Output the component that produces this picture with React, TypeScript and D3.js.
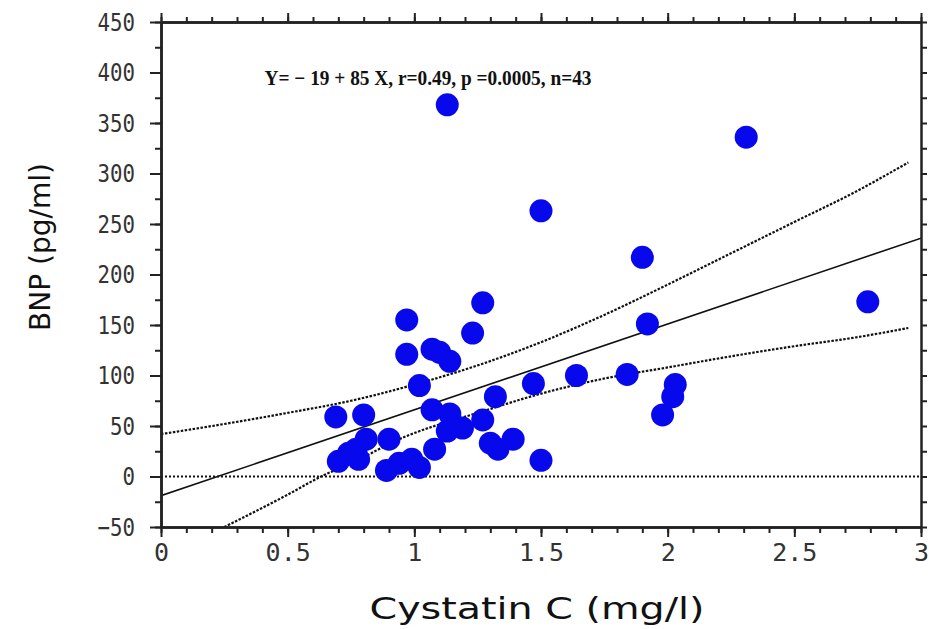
import { useEffect, useRef } from "react";
import * as d3 from "d3";

// Cystatin C (mg/l) and BNP (pg/ml) for each patient
const cystatin = [
  1.13, 2.31, 1.5, 1.9, 2.79, 1.27, 1.92, 0.97, 1.23, 0.97, 1.07, 1.1, 1.14, 1.02, 1.32,
  1.47, 1.64, 1.84, 2.03, 2.02, 1.98, 0.69, 0.8, 1.07, 1.14, 1.27, 1.19, 1.13, 0.81, 0.9,
  0.77, 0.7, 0.78, 0.89, 0.94, 0.99, 1.02, 1.08, 1.3, 1.33, 1.39, 1.5, 0.74,
];
const bnp = [
  368, 336, 263, 217, 173, 172, 151, 155, 142, 121, 126, 123, 114, 90, 79,
  92, 100, 101, 91, 79, 61, 59, 61, 66, 62, 56, 48, 45, 37, 37,
  27, 15, 17, 6, 13, 17, 9, 27, 33, 27, 37, 16, 23,
];

// 95% confidence band
const upperX = [0, 0.25, 0.5, 0.75, 1.0, 1.25, 1.5, 1.75, 2.0, 2.25, 2.5, 2.75, 2.95];
const upperY = [42, 52, 63, 75, 91, 110, 133, 160, 190, 221, 252, 283, 311];
const lowerX = [0.25, 0.5, 0.64, 0.75, 0.95, 1.0, 1.25, 1.5, 1.75, 2.0, 2.25, 2.5, 2.75, 2.95];
const lowerY = [-50, -18, 1, 13, 38, 43, 63, 82, 97, 108, 119, 129, 138, 147];

// regression line Y = a + b X
const INTERCEPT = -19;
const SLOPE = 85;

const xTicks = [0, 0.5, 1, 1.5, 2, 2.5, 3];
const yTicks = [-50, 0, 50, 100, 150, 200, 250, 300, 350, 400, 450];

const TITLE = "Y= \u2212 19 + 85 X, r=0.49, p =0.0005, n=43";
const X_LABEL = "Cystatin C (mg/l)";
const Y_LABEL = "BNP (pg/ml)";

const width = 929;
const height = 629;
const MARGIN = { top: 22, right: 8, bottom: 102, left: 161 };

const TICK_FONT = "'DejaVu Sans Mono', 'Liberation Mono', monospace";
const LABEL_FONT = "'DejaVu Sans', 'Liberation Sans', sans-serif";

export default function App() {
  const svgRef = useRef<SVGSVGElement>(null);

  const x = d3.scaleLinear().domain([0, 3]).range([MARGIN.left, width - MARGIN.right]);
  const y = d3.scaleLinear().domain([-50, 450]).range([height - MARGIN.bottom, MARGIN.top]);

  useEffect(() => {
    const svg = d3.select(svgRef.current);
    svg.selectAll("*").remove();

    svg.append("rect").attr("width", width).attr("height", height).attr("fill", "#fff");

    svg
      .append("clipPath")
      .attr("id", "plot-clip")
      .append("rect")
      .attr("x", x(0))
      .attr("y", y(450))
      .attr("width", x(3) - x(0))
      .attr("height", y(-50) - y(450));

    const plot = svg.append("g").attr("clip-path", "url(#plot-clip)");

    // zero reference line
    plot
      .append("line")
      .attr("x1", x(0))
      .attr("x2", x(3))
      .attr("y1", y(0))
      .attr("y2", y(0))
      .attr("stroke", "#111")
      .attr("stroke-width", 1.8)
      .attr("stroke-dasharray", "2,2");

    // confidence band
    const band = d3
      .line<[number, number]>()
      .x((d) => x(d[0]))
      .y((d) => y(d[1]))
      .curve(d3.curveMonotoneX);

    [
      upperX.map((v, i) => [v, upperY[i]] as [number, number]),
      lowerX.map((v, i) => [v, lowerY[i]] as [number, number]),
    ].forEach((pts) => {
      plot
        .append("path")
        .attr("d", band(pts))
        .attr("fill", "none")
        .attr("stroke", "#111")
        .attr("stroke-width", 2.2)
        .attr("stroke-dasharray", "2.5,1.5");
    });

    // regression line
    plot
      .append("line")
      .attr("x1", x(0))
      .attr("x2", x(3))
      .attr("y1", y(INTERCEPT))
      .attr("y2", y(INTERCEPT + SLOPE * 3))
      .attr("stroke", "#111")
      .attr("stroke-width", 1.6);

    // points
    svg
      .append("g")
      .selectAll("circle")
      .data(cystatin)
      .join("circle")
      .attr("cx", (d) => x(d))
      .attr("cy", (_d, i) => y(bnp[i]))
      .attr("r", 11.5)
      .attr("fill", "#0808ec");

    // axes with major and minor ticks
    const style = (g: d3.Selection<SVGGElement, unknown, null, undefined>) => {
      g.select(".domain").attr("stroke", "#222").attr("stroke-width", 2.5);
      g.selectAll(".tick line").attr("stroke", "#222").attr("stroke-width", 2);
    };

    const minorX = d3.range(0, 3.0001, 0.1);
    const minorY = d3.range(-50, 450.0001, 25);

    const bottomMinor = svg
      .append("g")
      .attr("transform", `translate(0,${y(-50)})`)
      .call(d3.axisBottom(x).tickValues(minorX).tickSize(6).tickFormat(() => "").tickSizeOuter(0));
    style(bottomMinor);
    const bottom = svg
      .append("g")
      .attr("transform", `translate(0,${y(-50)})`)
      .call(d3.axisBottom(x).tickValues(xTicks).tickSize(10).tickPadding(6).tickSizeOuter(0).tickFormat(d3.format("")));
    style(bottom);
    bottom
      .selectAll("text")
      .attr("font-family", TICK_FONT)
      .attr("font-size", 25)
      .attr("fill", "#333");

    const topMinor = svg
      .append("g")
      .attr("transform", `translate(0,${y(450)})`)
      .call(d3.axisTop(x).tickValues(minorX).tickSize(5).tickFormat(() => "").tickSizeOuter(0));
    style(topMinor);
    const top = svg
      .append("g")
      .attr("transform", `translate(0,${y(450)})`)
      .call(d3.axisTop(x).tickValues(xTicks).tickSize(9).tickFormat(() => "").tickSizeOuter(0));
    style(top);

    const leftMinor = svg
      .append("g")
      .attr("transform", `translate(${x(0)},0)`)
      .call(d3.axisLeft(y).tickValues(minorY).tickSize(6).tickFormat(() => "").tickSizeOuter(0));
    style(leftMinor);
    const left = svg
      .append("g")
      .attr("transform", `translate(${x(0)},0)`)
      .call(d3.axisLeft(y).tickValues(yTicks).tickSize(11).tickPadding(15).tickSizeOuter(0).tickFormat(d3.format("")));
    style(left);
    left
      .selectAll<SVGTextElement, number>("text")
      .attr("font-family", TICK_FONT)
      .attr("font-size", 25)
      .attr("textLength", (d) => String(d).length * 12.5)
      .attr("lengthAdjust", "spacingAndGlyphs")
      .attr("fill", "#333");

    const right = svg
      .append("g")
      .attr("transform", `translate(${x(3)},0)`)
      .call(d3.axisRight(y).tickValues(minorY).tickSize(6).tickFormat(() => "").tickSizeOuter(0));
    style(right);

    // regression text
    svg
      .append("text")
      .attr("x", 428)
      .attr("y", y(388))
      .attr("text-anchor", "middle")
      .attr("font-family", "'Liberation Serif', 'DejaVu Serif', serif")
      .attr("font-weight", "bold")
      .attr("font-size", 21)
      .attr("textLength", 327)
      .attr("lengthAdjust", "spacingAndGlyphs")
      .attr("fill", "#111")
      .text(TITLE);

    // axis titles
    svg
      .append("text")
      .attr("x", 537)
      .attr("y", 619)
      .attr("text-anchor", "middle")
      .attr("font-family", LABEL_FONT)
      .attr("font-size", 30)
      .attr("textLength", 335)
      .attr("lengthAdjust", "spacingAndGlyphs")
      .attr("fill", "#111")
      .text(X_LABEL);

    svg
      .append("text")
      .attr("transform", `translate(50,${247}) rotate(-90)`)
      .attr("text-anchor", "middle")
      .attr("font-family", LABEL_FONT)
      .attr("font-size", 28)
      .attr("textLength", 168)
      .attr("lengthAdjust", "spacingAndGlyphs")
      .attr("fill", "#111")
      .text(Y_LABEL);
  }, [x, y]);

  return (
    <svg
      ref={svgRef}
      width={width}
      height={height}
      style={{ position: "absolute", left: 0, top: 0 }}
    />
  );
}
